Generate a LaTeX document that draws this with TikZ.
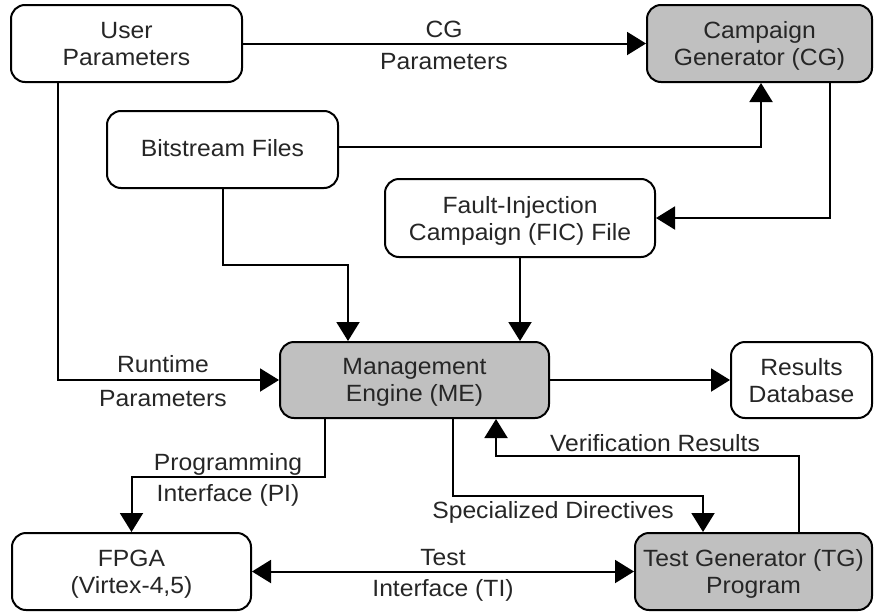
\documentclass[tikz,border=0pt]{standalone}
\usepackage{fontspec}
\setmainfont{Liberation Sans}[FakeStretch=1.05]
\usetikzlibrary{arrows.meta}
\definecolor{boxgray}{HTML}{C0C0C0}
\definecolor{txt}{HTML}{262626}
\newcommand\twoline[2]{#1\\\smash{#2}}
\tikzset{
  blk/.style={draw=black, line width=2pt, rounded corners=14pt, fill=white, align=center, inner sep=0pt,
    text=txt, font=\fontsize{23.5}{27}\selectfont},
  shaded/.style={blk, fill=boxgray},
  lbl/.style={font=\fontsize{23.5}{28}\selectfont, text=txt, inner sep=0pt, text height=16.8pt, text depth=0pt},
  conn/.style={line width=2pt, -{Triangle[length=19pt,width=23pt]}},
  biconn/.style={line width=2pt, {Triangle[length=19pt,width=23pt]}-{Triangle[length=19pt,width=23pt]}},
}
\begin{document}
\begin{tikzpicture}[x=1pt,y=-1pt]
\useasboundingbox (0,0) rectangle (874,613);
\node[blk, minimum width=231pt, minimum height=77pt] (user) at (126.5,43.5) {\twoline{User}{Parameters}};
\node[shaded, minimum width=225pt, minimum height=77pt] (cg) at (759.5,43.5) {\twoline{Campaign}{Generator (CG)}};
\node[blk, minimum width=231pt, minimum height=77pt, text height=16.8pt, text depth=3pt] (bit) at (222.5,149.5) {Bitstream Files};
\node[blk, minimum width=270pt, minimum height=78pt] (fic) at (520,218) {\twoline{Fault-Injection}{Campaign (FIC) File}};
\node[shaded, minimum width=269pt, minimum height=76pt] (me) at (414.5,380) {\twoline{Management}{Engine (ME)}};
\node[blk, minimum width=141pt, minimum height=76pt] (res) at (801.5,380) {\twoline{Results}{Database}};
\node[blk, minimum width=239pt, minimum height=77pt] (fpga) at (131.5,571.5) {\twoline{FPGA}{(Virtex-4,5)}};
\node[shaded, minimum width=237pt, minimum height=77pt] (tg) at (753.5,571.5) {\twoline{Test Generator (TG)}{Program}};

% connectors
\draw[conn] (user.east) -- (cg.west);
\draw[conn] ([yshift=2.5pt]bit.east) -| ([xshift=1.5pt]cg.south);
\draw[conn] ([xshift=70.5pt]cg.south) |- (fic.east);
\draw[conn] (bit.south) -- ++(0,76) -| ([xshift=-66.5pt]me.north);
\draw[conn] (fic.south) -- (fic.south |- me.north);
\draw[conn] ([xshift=-68.5pt]user.south) |- (me.west);
\draw[conn] (me.east) -- (res.west);
\draw[conn] ([xshift=-89.5pt]me.south) -- ++(0,58) -| (fpga.north);
\draw[conn] ([xshift=38.5pt]me.south) -- ++(0,77) -| ([xshift=-50.5pt]tg.north);
\draw[conn] ([xshift=45.5pt]tg.north) -- ++(0,-76) -| ([xshift=81.5pt]me.south);
\draw[biconn] (fpga.east) -- (tg.west);

% labels
\node[lbl] (l1) at (444,29) {CG};
\node[lbl] (l2) at (444,61) {Parameters};
\node[lbl] (l3) at (163,364) {Runtime};
\node[lbl] (l4) at (163,398) {Parameters};
\node[lbl] (l5) at (228,462) {Programming};
\node[lbl] (l6) at (228,493) {Interface (PI)};
\node[lbl] (l7) at (553,510) {Specialized Directives};
\node[lbl] (l8) at (655,443) {Verification Results};
\node[lbl] (l9) at (443,557) {Test};
\node[lbl] (l10) at (443,588) {Interface (TI)};
\end{tikzpicture}
\end{document}
